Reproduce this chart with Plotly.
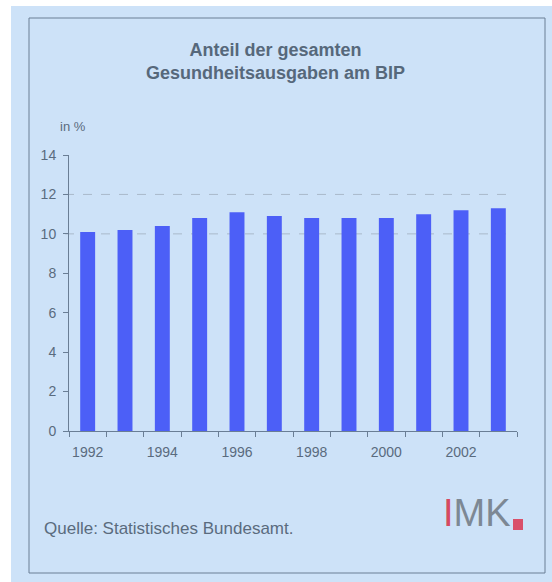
import plotly.graph_objects as go

years = [1992, 1993, 1994, 1995, 1996, 1997, 1998, 1999, 2000, 2001, 2002, 2003]
share = [10.1, 10.2, 10.4, 10.8, 11.1, 10.9, 10.8, 10.8, 10.8, 11.0, 11.2, 11.3]
x_tick_labels = ["1992", "1994", "1996", "1998", "2000", "2002"]
x_tick_vals = [1992, 1994, 1996, 1998, 2000, 2002]
y_ticks = [0, 2, 4, 6, 8, 10, 12, 14]
grid_levels = [10, 12]

W, H = 552, 582
L, R, T, B = 69, 517, 155, 431


def px(x):
    return (x - L) / (R - L)


def py(y):
    return (B - y) / (B - T)


TXT = "#5a6b7e"
BG = "#cde2f8"
FONT = "Liberation Sans, Arial, sans-serif"

fig = go.Figure()
fig.add_trace(go.Bar(x=years, y=share, width=0.4, marker=dict(color="#4c5ff7", line=dict(width=0)),
                     hoverinfo="x+y"))

shapes = [
    dict(type="rect", xref="paper", yref="paper", x0=px(11), x1=px(553), y0=py(583), y1=py(6),
         fillcolor=BG, line=dict(width=0), layer="below"),
    dict(type="rect", xref="paper", yref="paper", x0=px(29), x1=px(545), y0=py(573), y1=py(18),
         fillcolor="rgba(0,0,0,0)", line=dict(color="#6a7e95", width=1), layer="below"),
    # logo square
    dict(type="rect", xref="paper", yref="paper", x0=px(513), x1=px(523), y0=py(530), y1=py(519),
         fillcolor="#d9506a", line=dict(width=0), layer="above"),
]
for g in grid_levels:
    shapes.append(dict(type="line", xref="paper", yref="y", x0=px(65), x1=px(512), y0=g, y1=g,
                       line=dict(color="#a9b9ca", width=1, dash="dash"), layer="below"))

annotations = [
    dict(text="<b>Anteil der gesamten<br>Gesundheitsausgaben am BIP</b>", xref="paper", yref="paper",
         x=px(275), y=py(61.5), xanchor="center", yanchor="middle", showarrow=False,
         font=dict(family=FONT, size=18, color="#56687b")),
    dict(text="in %", xref="paper", yref="paper", x=px(58), y=py(126), xanchor="left", yanchor="middle",
         showarrow=False, font=dict(family=FONT, size=13, color=TXT)),
    dict(text="Quelle: Statistisches Bundesamt.", xref="paper", yref="paper", x=px(42), y=py(528),
         xanchor="left", yanchor="middle", showarrow=False, font=dict(family=FONT, size=17, color=TXT)),
    dict(text="<span style='color:#d64a60'>I</span>MK", xref="paper", yref="paper", x=px(441), y=py(513),
         xanchor="left", yanchor="middle", showarrow=False,
         font=dict(family="Liberation Sans Narrow, Arial Narrow, Liberation Sans, sans-serif", size=38,
                   color="#7d8894")),
]

fig.update_layout(
    width=W, height=H,
    margin=dict(l=L, r=W - R, t=T, b=H - B, pad=0),
    paper_bgcolor="white",
    plot_bgcolor="rgba(0,0,0,0)",
    showlegend=False,
    shapes=shapes,
    annotations=annotations,
    font=dict(family=FONT, color=TXT),
    xaxis=dict(range=[1991.5, 2003.5], tickmode="array", tickvals=x_tick_vals, ticktext=x_tick_labels,
               ticks="", showgrid=False, zeroline=False, showline=True, linecolor="#6a7e95", linewidth=1,
               tickfont=dict(size=14, color=TXT), ticklabelstandoff=8,
               minor=dict(tickmode="array", tickvals=[1991.5 + i for i in range(13)], ticks="outside",
                          ticklen=5, tickcolor="#6a7e95", showgrid=False)),
    yaxis=dict(range=[0, 14], tickmode="array", tickvals=y_ticks, ticks="outside", ticklen=5,
               tickcolor="#6a7e95", showgrid=False, zeroline=False, showline=True, linecolor="#6a7e95",
               linewidth=1, tickfont=dict(size=14, color=TXT), ticklabelstandoff=4),
)

fig.write_html("out.html")
